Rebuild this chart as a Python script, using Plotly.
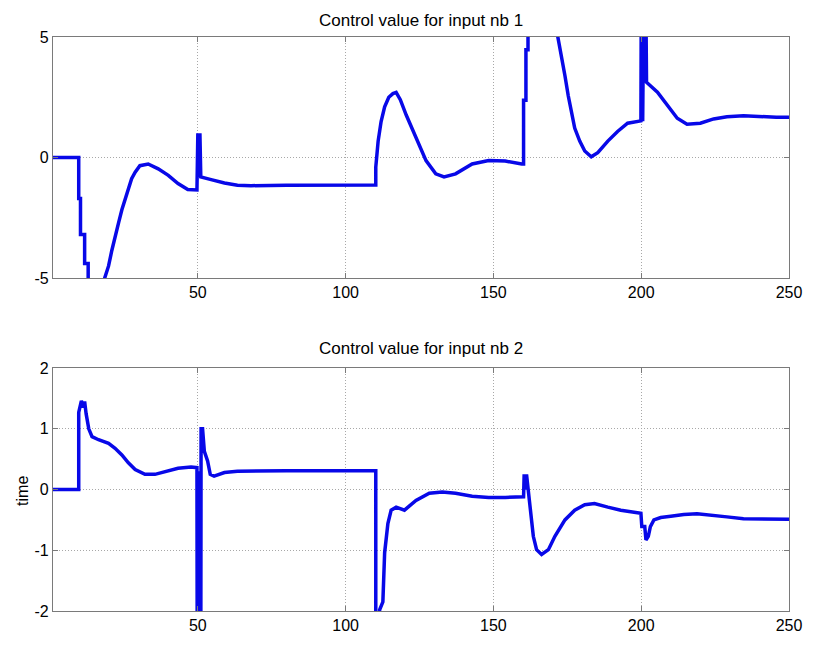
import plotly.graph_objects as go

# ---- data ----
u1_x = [1, 9.7, 9.7, 10.3, 10.3, 11.7, 11.7, 12.9, 12.9, 14, 15.5, 17.5, 18.5, 19.8, 20.9, 22, 23.2,
        24.3, 25.4, 26.5, 27.6, 28.8, 30.4, 33.2, 36.6, 40, 43.3, 46.6, 49.7, 50, 50.4, 50.7, 51,
        54.5, 59, 63.4, 68, 80, 95, 110.2, 110.2, 111, 112, 113.2, 114.6, 116, 117.1, 118.5, 120.5,
        123.8, 127.2, 130.5, 133.3, 137.2, 142.8, 148.4, 154, 159.6, 160.2, 160.2, 161, 161, 161.7,
        161.7, 166, 170, 171.9, 173, 174.2, 175.3, 176.4, 177.5, 179.2, 180.9, 183.1, 185.3, 188.7,
        192, 195.4, 199.9, 200, 200.5, 200.8, 201.2, 201.6, 201.8, 205.5, 208.8, 212.2, 215.5, 220,
        224.5, 229, 234.6, 240, 245.7, 250]
u1_y = [0, 0, -1.7, -1.7, -3.2, -3.2, -4.4, -4.4, -5.6, -5.6, -6.8, -6.0, -5.0, -4.5, -3.86, -3.25, -2.7,
        -2.17, -1.7, -1.22, -0.88, -0.61, -0.34, -0.27, -0.47, -0.74, -1.08, -1.33, -1.35, 1.0, -0.8, 1.0, -0.81,
        -0.92, -1.06, -1.15, -1.17, -1.15, -1.14, -1.14, -0.4, 0.68, 1.49, 2.1, 2.5, 2.65, 2.7, 2.4, 1.76,
        0.81, -0.13, -0.68, -0.81, -0.68, -0.27, -0.13, -0.15, -0.27, -0.27, 2.37, 2.37, 4.47, 4.47,
        5.5, 6.6, 6.2, 5.0, 4.2, 3.39, 2.57, 1.9, 1.22, 0.68, 0.27, 0.03, 0.2, 0.68,
        1.08, 1.42, 1.52, 6.0, 1.5, 6.0, 3.2, 6.0, 3.12, 2.71, 2.17, 1.63, 1.38, 1.42,
        1.6, 1.69, 1.73, 1.69, 1.67, 1.67]

u2_x = [1, 9.7, 9.7, 10.6, 11.3, 11.7, 12.2, 13.1, 14.2, 16.4, 19.8, 22, 24.3, 26.5, 28.8, 32.1, 35.5,
        38.8, 43.3, 47.7, 49.7, 49.8, 50.3, 50.6, 51.0, 51.1, 51.6, 52.2, 53.3, 54.2, 55.5, 59, 63.4,
        80, 110.2, 110.2, 111.5, 111.5, 112.6, 113.2, 114.3, 115.4, 117.1, 119.9, 123.8, 128.3, 132.7,
        137.2, 142.8, 148.4, 154, 160.2, 160.4, 160.8, 161.2, 161.8, 162.8, 163.5, 164.6, 166.3, 168.6,
        170.8, 174.2, 177.5, 180.9, 184.2, 188.7, 193.1, 199.9, 200.2, 201.2, 201.6, 202.4, 203.1,
        204.3, 206.6, 210, 214.4, 218.9, 224.5, 229, 234.6, 250]
u2_y = [0, 0, 1.27, 1.46, 1.35, 1.45, 1.25, 1.0, 0.87, 0.82, 0.76, 0.68, 0.57, 0.44, 0.33, 0.25, 0.25,
        0.29, 0.35, 0.37, 0.36, -3.0, 0.3, -3.0, -3.0, 1.0, 1.0, 0.63, 0.47, 0.25, 0.22, 0.28, 0.3,
        0.31, 0.31, -3.0, -3.0, -1.98, -1.85, -1.04, -0.56, -0.34, -0.29, -0.34, -0.18, -0.06, -0.04,
        -0.06, -0.11, -0.13, -0.13, -0.12, 0.25, 0.0, 0.25, -0.02, -0.45, -0.77, -0.99, -1.07, -0.99,
        -0.77, -0.5, -0.34, -0.25, -0.23, -0.29, -0.34, -0.39, -0.61, -0.61, -0.83, -0.77, -0.61,
        -0.5, -0.46, -0.44, -0.41, -0.40, -0.42, -0.45, -0.48, -0.49]

x_ticks = [50, 100, 150, 200, 250]
y1_ticks = [-5, 0, 5]
y2_ticks = [-2, -1, 0, 1, 2]
title1 = "Control value for input nb 1"
title2 = "Control value for input nb 2"
ylabel2 = "time"

# ---- figure ----
W, H = 814, 646
ML, MR, MT, MB = 53, 16, 37, 23
PH = H - MT - MB
LINE = dict(color="#0808e8", width=3.5)
FRAME = "#7a7a7a"
GRID = "#a8a8a8"
FAMILY = "Liberation Sans, Arial, sans-serif"
FONT = dict(family=FAMILY, size=16, color="#000000")

fig = go.Figure()
fig.add_trace(go.Scatter(x=u1_x, y=u1_y, mode="lines", line=LINE, xaxis="x", yaxis="y",
                         showlegend=False, cliponaxis=True))
fig.add_trace(go.Scatter(x=u2_x, y=u2_y, mode="lines", line=LINE, xaxis="x2", yaxis="y2",
                         showlegend=False, cliponaxis=True))

def xax(anchor):
    return dict(range=[1, 250], tickvals=x_ticks, ticktext=[str(v) for v in x_ticks],
                showline=True, linecolor=FRAME, linewidth=1.2, mirror="ticks",
                ticks="inside", ticklen=5, tickcolor=FRAME,
                showgrid=True, gridcolor=GRID, griddash="1px,2px", gridwidth=1,
                zeroline=False, anchor=anchor, tickfont=FONT, domain=[0, 1])

def yax(anchor, rng, tv, dom):
    return dict(range=rng, tickvals=tv, ticktext=[str(v) for v in tv],
                showline=True, linecolor=FRAME, linewidth=1.2, mirror="ticks",
                ticks="inside", ticklen=5, tickcolor=FRAME,
                showgrid=True, gridcolor=GRID, griddash="1px,2px", gridwidth=1,
                zeroline=False, anchor=anchor, tickfont=FONT, domain=dom)

top_dom = [(623 - 283) / PH, 1.0]
bot_dom = [0.0, (623 - 375) / PH]

fig.update_layout(
    width=W, height=H,
    margin=dict(l=ML, r=MR, t=MT, b=MB),
    paper_bgcolor="white", plot_bgcolor="white",
    xaxis=xax("y"), yaxis=yax("x", [-5, 5], y1_ticks, top_dom),
    xaxis2=xax("y2"), yaxis2=yax("x2", [-2, 2], y2_ticks, bot_dom),
    font=FONT,
    annotations=[
        dict(text=title1, x=0.5, y=(623 - 20) / PH, xref="paper", yref="paper",
             showarrow=False, xanchor="center", yanchor="middle",
             font=dict(family=FAMILY, size=17, color="#000")),
        dict(text=title2, x=0.5, y=(623 - 355) / PH, xref="paper", yref="paper",
             showarrow=False, xanchor="center", yanchor="middle",
             font=dict(family=FAMILY, size=17, color="#000")),
        dict(text=ylabel2, x=(22 - ML) / (W - ML - MR), y=(623 - 500) / PH,
             xref="paper", yref="paper", showarrow=False, textangle=-90,
             xanchor="center", yanchor="middle",
             font=dict(family=FAMILY, size=16, color="#000")),
    ],
)

fig.write_html("out.html")
